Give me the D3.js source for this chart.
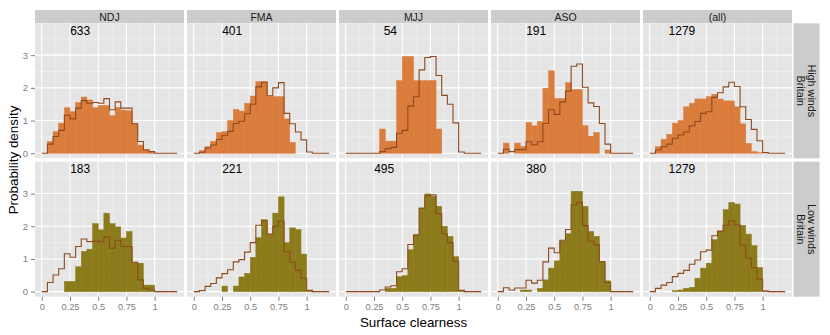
<!DOCTYPE html>
<html>
<head>
<meta charset="utf-8">
<script src="https://cdn.jsdelivr.net/npm/d3@7/dist/d3.min.js"></script>
<style>
  html, body { margin: 0; padding: 0; background: #fff; }
  svg { display: block; font-family: "Liberation Sans", Arial, sans-serif; }
</style>
</head>
<body>
<div id="chart"></div>
<script>
// Histograms of surface clearness by season and wind regime (density, bin width 0.05)
const seasons = ["NDJ", "FMA", "MJJ", "ASO", "(all)"];
const regimes = [["High winds", "Britain"], ["Low winds", "Britain"]];
const countsHigh = [633, 401, 54, 191, 1279];
const countsLow = [183, 221, 495, 380, 1279];

const binStarts = [0, 0.05, 0.1, 0.15, 0.2, 0.25, 0.3, 0.35, 0.4, 0.45, 0.5, 0.55,
  0.6, 0.65, 0.7, 0.75, 0.8, 0.85, 0.9, 0.95, 1, 1.05, 1.1, 1.15];

// Britain-wide density for each season (drawn as the step outline)
const lineNDJ = [0, 0.28, 0.51, 0.70, 1.16, 1.05, 1.38, 1.61, 1.53, 1.55, 1.53, 1.67, 1.33, 1.57, 1.38, 1.38, 0.90, 0.36, 0.10, 0.05, 0, 0, 0, 0];
const lineFMA = [0, 0.03, 0.16, 0.25, 0.42, 0.55, 0.67, 0.91, 0.98, 1.21, 1.50, 2.03, 2.17, 1.76, 2.00, 2.16, 1.22, 0.90, 0.65, 0.41, 0.04, 0, 0, 0];
const lineMJJ = [0, 0, 0, 0, 0, 0, 0.05, 0.14, 0.18, 0.61, 0.70, 1.44, 1.73, 2.55, 2.93, 2.96, 2.38, 1.77, 1.50, 0.93, 0.04, 0, 0, 0];
const lineASO = [0, 0.12, 0.05, 0.11, 0.11, 0.35, 0.26, 0.35, 0.91, 1.33, 1.19, 1.57, 1.90, 2.66, 2.73, 2.02, 1.54, 1.43, 0.91, 0.28, 0, 0, 0, 0];
const lineAll = [0, 0.10, 0.20, 0.28, 0.46, 0.56, 0.65, 0.84, 0.97, 1.22, 1.27, 1.71, 1.85, 2.03, 2.17, 2.04, 1.42, 1.03, 0.73, 0.38, 0.02, 0, 0, 0];

// High-wind days
const highNDJ = [0, 0.36, 0.66, 0.92, 1.39, 1.27, 1.55, 1.72, 1.63, 1.39, 1.46, 1.46, 1.15, 1.40, 1.32, 1.30, 0.90, 0.25, 0.12, 0.05, 0, 0, 0, 0];
const highFMA = [0, 0.08, 0.20, 0.36, 0.63, 0.66, 1.00, 1.34, 1.29, 1.53, 1.75, 2.19, 2.19, 1.73, 1.73, 1.73, 1.05, 0.33, 0, 0, 0, 0, 0, 0];
const highMJJ = [0, 0, 0, 0, 0, 0, 0.74, 0.37, 0.37, 2.22, 2.96, 2.96, 2.22, 2.22, 2.22, 2.22, 0.74, 0, 0, 0, 0, 0, 0, 0];
const highASO = [0, 0.31, 0, 0.31, 0.21, 0.94, 0.84, 0.97, 1.99, 2.52, 1.67, 1.67, 2.16, 1.95, 1.95, 0.84, 0.52, 0.63, 0, 0.10, 0, 0, 0, 0];
const highAll = [0, 0.20, 0.43, 0.58, 0.92, 1.00, 1.42, 1.53, 1.66, 1.66, 1.73, 1.80, 1.66, 1.60, 1.60, 1.42, 0.90, 0.30, 0.05, 0.02, 0, 0, 0, 0];

// Low-wind days
const lowNDJ = [0, 0, 0, 0, 0.31, 0.31, 0.76, 1.23, 1.30, 2.08, 1.89, 2.40, 2.08, 1.98, 1.64, 1.84, 0.90, 0.87, 0.20, 0.20, 0, 0, 0, 0];
const lowFMA = [0, 0, 0, 0, 0, 0.17, 0, 0.17, 0.45, 0.56, 1.05, 1.65, 2.20, 1.75, 2.40, 2.90, 1.50, 1.95, 1.90, 1.15, 0.04, 0, 0, 0];
const lowMJJ = [0, 0, 0, 0, 0, 0, 0, 0.10, 0.10, 0.46, 0.49, 1.28, 1.74, 2.56, 2.99, 2.92, 2.61, 2.00, 1.69, 1.07, 0.04, 0, 0, 0];
const lowASO = [0, 0, 0, 0, 0.05, 0.05, 0, 0.10, 0.36, 0.72, 0.94, 1.55, 1.77, 3.07, 3.07, 2.61, 1.84, 1.69, 0.92, 0.33, 0, 0, 0, 0];
const lowAll = [0, 0, 0, 0, 0.03, 0.05, 0.10, 0.13, 0.41, 0.72, 0.87, 1.59, 1.84, 2.51, 2.73, 2.68, 2.03, 1.76, 1.41, 0.74, 0.02, 0, 0, 0];

const xTicks = [0, 0.25, 0.5, 0.75, 1];
const xTickLabels = ["0", "0.25", "0.5", "0.75", "1"];
const xMinor = [0.125, 0.375, 0.625, 0.875, 1.125];
const yTicks = [0, 1, 2, 3];
const yMinor = [0.5, 1.5, 2.5, 3.5];

const lines = [lineNDJ, lineFMA, lineMJJ, lineASO, lineAll];
const fills = [
  [highNDJ, highFMA, highMJJ, highASO, highAll],
  [lowNDJ, lowFMA, lowMJJ, lowASO, lowAll],
];
const counts = [countsHigh, countsLow];

// ---- layout ----
const W = 830, H = 335;
const binW = 0.05;
const panelLeft = 35, panelGap = 3, panelW = 149;
const rowTop = [23.3, 161.7], panelH = 135;
const stripTop = 10, stripRight = 793.5, stripW = 26;
const fillColors = ["#DA7C3C", "#8C7B1A"];
const lineColor = "#8E4A1E";

const svg = d3.select("#chart").append("svg")
  .attr("width", W).attr("height", H);

const yScales = rowTop.map((t) =>
  d3.scaleLinear().domain([-0.155, 3.975]).range([t + panelH, t]));
const xScales = seasons.map((_s, c) => {
  const l = panelLeft + c * (panelW + panelGap);
  return d3.scaleLinear().domain([-0.06, 1.26]).range([l, l + panelW]);
});

// Top strips
seasons.forEach((s, c) => {
  const [x0, x1] = xScales[c].range();
  svg.append("rect").attr("x", x0).attr("y", stripTop)
    .attr("width", x1 - x0).attr("height", rowTop[0] - stripTop)
    .attr("fill", "#CCCCCC");
  svg.append("text").attr("x", (x0 + x1) / 2).attr("y", (stripTop + rowTop[0]) / 2 + 0.5)
    .attr("text-anchor", "middle").attr("dominant-baseline", "central")
    .attr("font-size", 10.5).attr("fill", "#1A1A1A").text(s);
});

// Right strips
regimes.forEach((lab, r) => {
  const t = rowTop[r];
  svg.append("rect").attr("x", stripRight).attr("y", t)
    .attr("width", stripW).attr("height", panelH).attr("fill", "#CCCCCC");
  const cx = stripRight + stripW / 2, cy = t + panelH / 2;
  const g = svg.append("g").attr("transform", `translate(${cx},${cy}) rotate(90)`);
  lab.forEach((txt, i) => {
    g.append("text").attr("x", 0).attr("y", (i - 0.5) * 11.5)
      .attr("text-anchor", "middle").attr("dominant-baseline", "central")
      .attr("font-size", 10.8).attr("fill", "#1A1A1A").text(txt);
  });
});

const stepLine = (x, y) => d3.line()
  .x((d) => x(d[0])).y((d) => y(d[1]))
  .curve(d3.curveStepAfter);

regimes.forEach((_lab, r) => {
  const y = yScales[r];
  seasons.forEach((_s, c) => {
    const x = xScales[c];
    const [x0, x1] = x.range();
    const [yb, yt] = y.range();
    const g = svg.append("g");

    g.append("rect").attr("x", x0).attr("y", yt)
      .attr("width", x1 - x0).attr("height", yb - yt).attr("fill", "#E5E5E5");

    // minor grid
    g.selectAll(".vmin").data(xMinor).enter().append("line")
      .attr("x1", (d) => x(d)).attr("x2", (d) => x(d))
      .attr("y1", yt).attr("y2", yb)
      .attr("stroke", "#F2F2F2").attr("stroke-width", 0.6);
    g.selectAll(".hmin").data(yMinor).enter().append("line")
      .attr("x1", x0).attr("x2", x1)
      .attr("y1", (d) => y(d)).attr("y2", (d) => y(d))
      .attr("stroke", "#F2F2F2").attr("stroke-width", 0.6);
    // major grid
    g.selectAll(".vmaj").data(xTicks).enter().append("line")
      .attr("x1", (d) => x(d)).attr("x2", (d) => x(d))
      .attr("y1", yt).attr("y2", yb)
      .attr("stroke", "#FFFFFF").attr("stroke-width", 1.1);
    g.selectAll(".hmaj").data(yTicks).enter().append("line")
      .attr("x1", x0).attr("x2", x1)
      .attr("y1", (d) => y(d)).attr("y2", (d) => y(d))
      .attr("stroke", "#FFFFFF").attr("stroke-width", 1.1);

    // bars (thin same-colour stroke hides anti-aliasing seams)
    const vals = fills[r][c];
    g.selectAll(".bar").data(binStarts.map((b, i) => [b, vals[i]]).filter((d) => d[1] > 0))
      .enter().append("rect")
      .attr("x", (d) => x(d[0]))
      .attr("width", (d) => x(d[0] + binW) - x(d[0]))
      .attr("y", (d) => y(d[1]))
      .attr("height", (d) => y(0) - y(d[1]))
      .attr("fill", fillColors[r])
      .attr("stroke", fillColors[r]).attr("stroke-width", 0.5);

    // Britain-wide outline
    const lv = lines[c];
    const pts = binStarts.map((b, i) => [b, lv[i]]);
    pts.push([binStarts[binStarts.length - 1] + binW, lv[lv.length - 1]]);
    g.append("path").attr("d", stepLine(x, y)(pts))
      .attr("fill", "none").attr("stroke", lineColor).attr("stroke-width", 1.1);

    // sample size
    const n = String(counts[r][c]);
    g.append("text")
      .attr("x", x(0.34 + (3 - n.length) * 0.055)).attr("y", y(3.75))
      .attr("text-anchor", "middle").attr("dominant-baseline", "central")
      .attr("font-size", 12).attr("fill", "#000").text(n);
  });

  // y axis on first column
  const ax = svg.append("g").attr("transform", `translate(${panelLeft},0)`)
    .call(d3.axisLeft(y).tickValues(yTicks).tickSize(4).tickPadding(3).tickFormat(d3.format("d")));
  ax.select(".domain").remove();
  ax.selectAll("line").attr("stroke", "#7F7F7F");
  ax.selectAll("text").attr("fill", "#7F7F7F").attr("font-size", 9.5)
    .attr("font-family", "Liberation Sans, Arial, sans-serif");
});

// x axes on bottom row
seasons.forEach((_s, c) => {
  const yb = yScales[1].range()[0];
  const ax = svg.append("g").attr("transform", `translate(0,${yb})`)
    .call(d3.axisBottom(xScales[c]).tickValues(xTicks).tickSize(4).tickPadding(3)
      .tickFormat((d, i) => xTickLabels[i]));
  ax.select(".domain").remove();
  ax.selectAll("line").attr("stroke", "#7F7F7F");
  ax.selectAll("text").attr("fill", "#7F7F7F").attr("font-size", 9.3)
    .attr("font-family", "Liberation Sans, Arial, sans-serif");
});

// axis titles
svg.append("text").attr("x", (panelLeft + xScales[4].range()[1]) / 2).attr("y", 322)
  .attr("text-anchor", "middle").attr("dominant-baseline", "central")
  .attr("font-size", 13.4).attr("fill", "#000").text("Surface clearness");
svg.append("text")
  .attr("transform", `translate(13.5,${(rowTop[0] + rowTop[1] + panelH) / 2}) rotate(-90)`)
  .attr("text-anchor", "middle").attr("dominant-baseline", "central")
  .attr("font-size", 13.4).attr("fill", "#000").text("Probability density");
</script>
</body>
</html>
